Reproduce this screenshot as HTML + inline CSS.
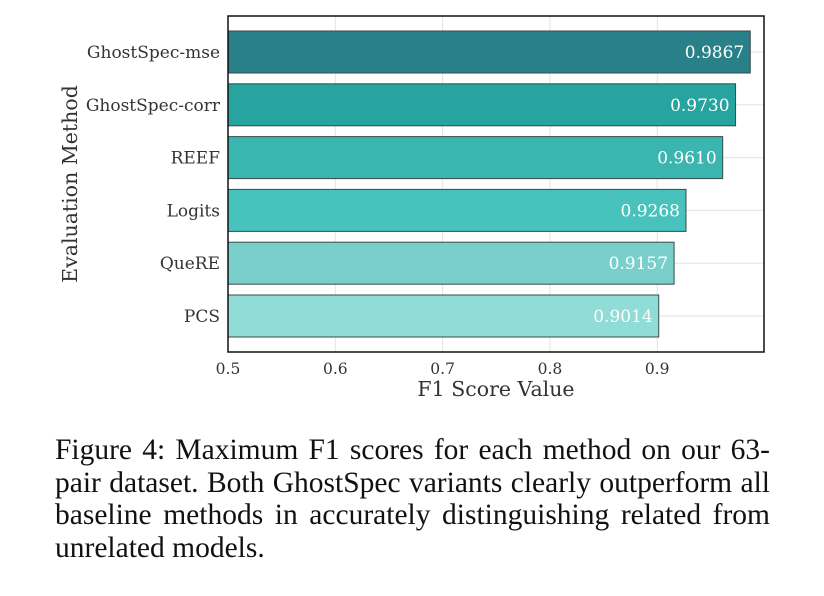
<!DOCTYPE html>
<html><head><meta charset="utf-8"><style>
body{margin:0;width:824px;height:596px;background:#fff;overflow:hidden;position:relative}
#cap{position:absolute;left:55px;top:434px;width:715px;font-family:"Liberation Serif",serif;font-size:29.5px;line-height:32.5px;color:#111}
#cap div{text-align:justify;text-align-last:justify;white-space:nowrap}
#cap div.last{text-align-last:left}
</style></head><body>
<svg id="chart" width="824" height="420" style="position:absolute;left:0;top:0" font-family="DejaVu Serif, serif"></svg>
<div id="cap"><div>Figure 4: Maximum F1 scores for each method on our 63-</div><div>pair dataset. Both GhostSpec variants clearly outperform all</div><div>baseline methods in accurately distinguishing related from</div><div class="last">unrelated models.</div></div>
<script>
const categories=["GhostSpec-mse","GhostSpec-corr","REEF","Logits","QueRE","PCS"];
const values=[0.9867,0.9730,0.9610,0.9268,0.9157,0.9014];
const labels=["0.9867","0.9730","0.9610","0.9268","0.9157","0.9014"];
const ticks=[0.5,0.6,0.7,0.8,0.9];
const colors=["#2a8089","#27a49f","#3bb5b0","#47c2bd","#78cfcc","#90dcd6"];
const L=228,R=764,T=16,B=352,xmin=0.5,xmax=0.9995;
const x=v=>L+(v-xmin)/(xmax-xmin)*(R-L);
const band=52.8;
const yc=i=>52+band*i;
const svg=document.getElementById('chart');
const NS='http://www.w3.org/2000/svg';
function mk(t,a,txt){const e=document.createElementNS(NS,t);for(const k in a)e.setAttribute(k,a[k]);if(txt!==undefined)e.textContent=txt;svg.appendChild(e);return e;}
ticks.forEach(t=>{const g=mk('line',{x1:x(t),x2:x(t),y1:T,y2:B,stroke:'#e2e2e2','stroke-width':1});


const l=mk('text',{x:x(t),y:374,'text-anchor':'middle','font-size':15.5,fill:'#333'},t.toFixed(1));

});
categories.forEach((c,i)=>{const g=mk('line',{x1:L,x2:R,y1:yc(i),y2:yc(i),stroke:'#e2e2e2','stroke-width':1});

});
categories.forEach((c,i)=>{
const r=mk('rect',{x:L,y:yc(i)-21,width:x(values[i])-L,height:42,fill:colors[i],stroke:'#3a4a4a','stroke-width':1});


const v=mk('text',{x:x(values[i])-6,y:yc(i)+6,'text-anchor':'end','font-size':17,fill:'#fff'},labels[i]);


const t=mk('text',{x:220,y:yc(i)+6,'text-anchor':'end','font-size':17,fill:'#333'},c);

});
const f=mk('rect',{x:L,y:T,width:R-L,height:B-T,fill:'none',stroke:'#111','stroke-width':1.5});


const xt=mk('text',{x:496,y:396,'text-anchor':'middle','font-size':20.5,fill:'#333'},'F1 Score Value');


const yt=mk('text',{x:0,y:0,'text-anchor':'middle','font-size':20.5,fill:'#333',transform:'translate(77,184) rotate(-90)'},'Evaluation Method');


</script>
</body></html>
